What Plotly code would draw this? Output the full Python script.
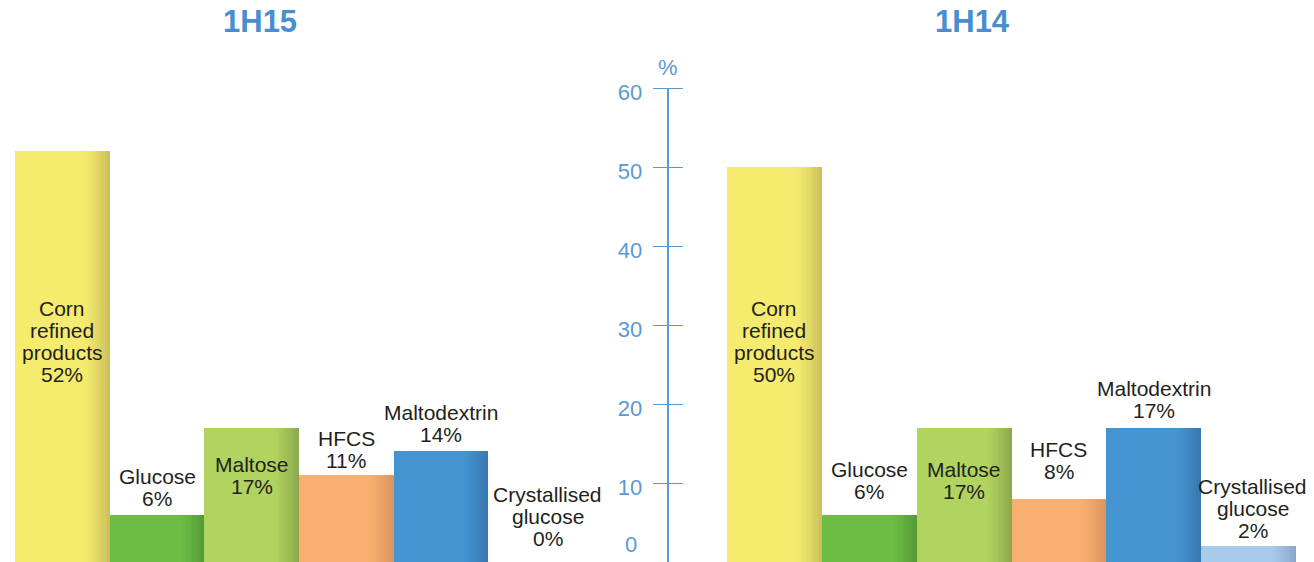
import plotly.graph_objects as go

# ---------------- data ----------------
categories = ["Corn refined products", "Glucose", "Maltose", "HFCS", "Maltodextrin", "Crystallised glucose"]
label_lines = [["Corn", "refined", "products"], ["Glucose"], ["Maltose"], ["HFCS"], ["Maltodextrin"], ["Crystallised", "glucose"]]
values_1h15 = [52, 6, 17, 11, 14, 0]
values_1h14 = [50, 6, 17, 8, 17, 2]
panel_titles = ["1H15", "1H14"]
axis_ticks = [0, 10, 20, 30, 40, 50, 60]
axis_unit = "%"

# ---------------- styles ----------------
base_colors = ["#F4EB6F", "#6DBD45", "#B1D35F", "#F9AF70", "#4394D0", "#A9CBEB"]
dark_colors = ["#CDC25A", "#559B36", "#8DA94B", "#DC9660", "#3977AF", "#8CA6C8"]
blue = "#5A9AD4"
title_blue = "#4A8ED0"
text_color = "#231F20"
FONT = "Liberation Sans, Arial, sans-serif"

W, H = 1314, 562
Y_TOP_PX = 88            # pixel row of the top tick
y_range_max = axis_ticks[-1] * H / (H - Y_TOP_PX)
axis_dom_top = (H - Y_TOP_PX) / H

# label offsets (px, last line centre relative to bar top; + = up)
label_shift = {
    "1H15": [-223, 16, -59, 15, 17, 24],
    "1H14": [-207, 23, -64, 27, 17, 16],
}
label_xshift = {
    "1H15": [0, 0, 0, 0, 0, 12],
    "1H14": [0, 0, 0, 0, 0, 4],
}
LINE_H = 22


def hex_to_rgb(h):
    h = h.lstrip("#")
    return tuple(int(h[i:i + 2], 16) for i in (0, 2, 4))


def mix(c1, c2, t):
    a, b = hex_to_rgb(c1), hex_to_rgb(c2)
    return "rgb(%d,%d,%d)" % tuple(round(a[i] + (b[i] - a[i]) * t) for i in range(3))


fig = go.Figure()

panels = [("1H15", values_1h15, "x", "y"), ("1H14", values_1h14, "x2", "y")]
N_STRIPS = 10
G_START = 0.24  # gradient starts at this offset from bar centre (bar half-width 0.5)

for name, vals, xa, ya in panels:
    fig.add_trace(go.Bar(
        x=categories, y=vals, xaxis=xa, yaxis=ya, width=1.0,
        marker=dict(color=base_colors, line=dict(width=0)),
        showlegend=False, hoverinfo="skip"))
    step = (0.5 - G_START) / N_STRIPS
    for k in range(N_STRIPS):
        t = (k + 1) / N_STRIPS
        cols = [mix(b, d, t ** 1.3) for b, d in zip(base_colors, dark_colors)]
        off = G_START + k * step
        w = step + (0.004 if k < N_STRIPS - 1 else 0)
        fig.add_trace(go.Bar(
            x=categories, y=vals, xaxis=xa, yaxis=ya,
            offset=off, width=w,
            marker=dict(color=cols, line=dict(width=0)),
            showlegend=False, hoverinfo="skip"))

# empty traces so that the central value axes get drawn
fig.add_trace(go.Scatter(x=[], y=[], xaxis="x", yaxis="y3", showlegend=False, hoverinfo="skip"))
fig.add_trace(go.Scatter(x=[], y=[], xaxis="x", yaxis="y4", showlegend=False, hoverinfo="skip"))

annotations = []
for name, vals, xa, ya in panels:
    for i, cat in enumerate(categories):
        lines = label_lines[i] + ["%d%%" % vals[i]]
        n = len(lines)
        for j, line in enumerate(lines):
            annotations.append(dict(
                x=cat, y=vals[i], xref=xa, yref=ya,
                text=line, showarrow=False,
                xanchor="center", yanchor="middle",
                yshift=label_shift[name][i] + (n - 1 - j) * LINE_H,
                xshift=label_xshift[name][i],
                font=dict(family=FONT, size=21, color=text_color)))

# panel titles
for title, xc in zip(panel_titles, [260 / W, 972 / W]):
    annotations.append(dict(
        x=xc, y=1 - 22 / H, xref="paper", yref="paper", text="<b>%s</b>" % title,
        showarrow=False, xanchor="center", yanchor="middle",
        font=dict(family=FONT, size=31, color=title_blue)))

axis_x = 667.5 / W
# unit label
annotations.append(dict(
    x=axis_x, y=axis_ticks[-1], xref="paper", yref="y3", text=axis_unit,
    showarrow=False, xanchor="center", yanchor="middle", yshift=21,
    font=dict(family=FONT, size=22, color=blue)))
# zero label (lifted so it stays on the canvas)
annotations.append(dict(
    x=axis_x, y=axis_ticks[0], xref="paper", yref="y3", text=str(axis_ticks[0]),
    showarrow=False, xanchor="right", yanchor="middle", xshift=-29, yshift=18,
    font=dict(family=FONT, size=22, color=blue)))

tick_text = [("" if t == axis_ticks[0] else str(t)) for t in axis_ticks]

fig.update_layout(
    width=W, height=H,
    margin=dict(l=0, r=0, t=0, b=0, autoexpand=False),
    paper_bgcolor="white", plot_bgcolor="rgba(0,0,0,0)",
    barmode="overlay", bargap=0,
    xaxis=dict(domain=[15 / W, 583 / W], range=[-0.5, 5.5], visible=False, automargin=False,
               categoryorder="array", categoryarray=categories, anchor="y"),
    xaxis2=dict(domain=[727 / W, 1296 / W], range=[-0.5, 5.5], visible=False, automargin=False,
                categoryorder="array", categoryarray=categories, anchor="y"),
    yaxis=dict(range=[0, y_range_max], visible=False, domain=[0, 1], automargin=False),
    yaxis3=dict(anchor="free", position=axis_x, side="left", automargin=False,
                domain=[0, axis_dom_top], range=[axis_ticks[0], axis_ticks[-1]],
                tickvals=axis_ticks, ticktext=tick_text,
                ticks="outside", ticklen=14, tickwidth=1.4, tickcolor=blue,
                showline=True, linecolor=blue, linewidth=1.5,
                showgrid=False, zeroline=False,
                ticklabelstandoff=6, ticklabelshift=4,
                tickfont=dict(family=FONT, size=22, color=blue)),
    yaxis4=dict(anchor="free", position=axis_x, overlaying="y3", side="right", automargin=False,
                range=[axis_ticks[0], axis_ticks[-1]],
                tickvals=axis_ticks, showticklabels=False,
                ticks="outside", ticklen=14, tickwidth=1.4, tickcolor=blue,
                showline=False, showgrid=False, zeroline=False),
    annotations=annotations,
    showlegend=False,
)

fig.write_html("out.html", config={"displayModeBar": False},
               post_script="document.body.style.margin='0px';")
